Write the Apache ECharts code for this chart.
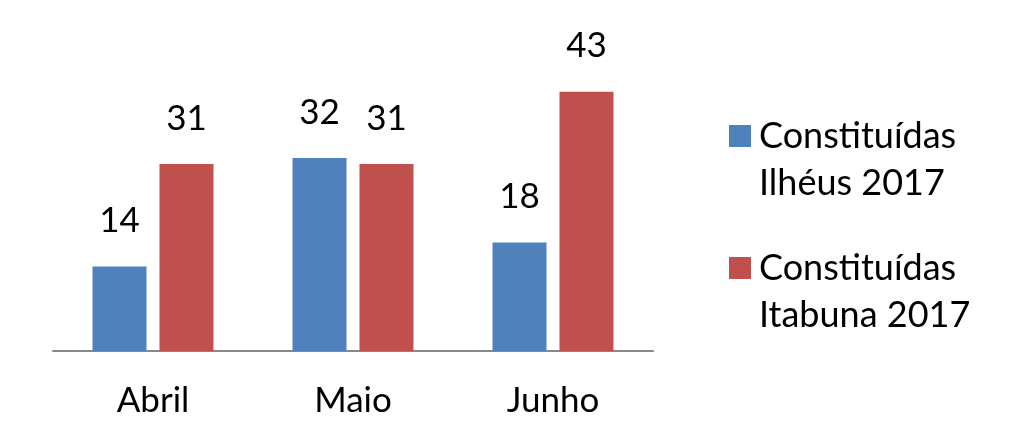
<!DOCTYPE html>
<html>
<head>
<meta charset="utf-8">
<script src="https://cdn.jsdelivr.net/npm/echarts@6/dist/echarts.min.js"></script>
<style>
html,body{margin:0;padding:0;background:#fff;}
#chart{width:1028px;height:448px;}
</style>
</head>
<body>
<div id="chart"></div>
<script>
var categories = ['Abril', 'Maio', 'Junho'];
var seriesNames = ['Constituídas\nIlhéus 2017', 'Constituídas\nItabuna 2017'];
var ilheus = [14, 32, 18];
var itabuna = [31, 31, 43];

var FONT = 'Lato';
var chart = echarts.init(document.getElementById('chart'));
chart.setOption({
  animation: false,
  backgroundColor: '#ffffff',
  textStyle: { fontFamily: FONT },
  grid: { left: 53, right: 375, top: 49.5, bottom: 97 },
  legend: {
    orient: 'vertical',
    left: 724,
    top: 60.5,
    itemWidth: 22,
    itemHeight: 22,
    itemGap: -9,
    icon: 'rect',
    data: seriesNames,
    formatter: function (name) { return '\n' + name; },
    textStyle: { fontFamily: FONT, fontSize: 36, color: '#000', lineHeight: 47, padding: [0, 0, 0, 3] }
  },
  xAxis: {
    type: 'category',
    data: categories,
    axisLine: { lineStyle: { color: '#898989', width: 2 } },
    axisTick: { show: false },
    axisLabel: { fontFamily: FONT, fontSize: 35, color: '#000', margin: 32 }
  },
  yAxis: {
    type: 'value',
    min: 0,
    max: 50,
    show: false,
    splitLine: { show: false }
  },
  series: [
    {
      name: seriesNames[0],
      type: 'bar',
      data: ilheus,
      barWidth: 54,
      barGap: '24%',
      itemStyle: { color: '#4F81BD' },
      label: { show: true, position: 'top', distance: 28, fontFamily: FONT, fontSize: 35, color: '#000' }
    },
    {
      name: seriesNames[1],
      type: 'bar',
      data: itabuna,
      barWidth: 54,
      barGap: '24%',
      itemStyle: { color: '#C0504D' },
      label: { show: true, position: 'top', distance: 28, fontFamily: FONT, fontSize: 35, color: '#000' }
    }
  ]
});
</script>
</body>
</html>
